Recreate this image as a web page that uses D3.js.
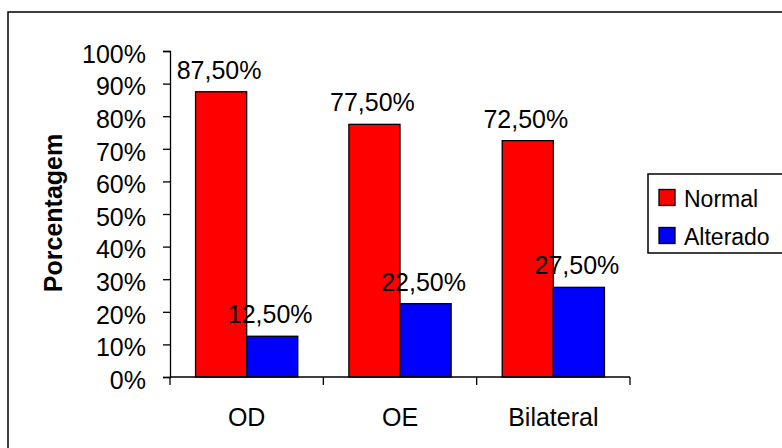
<!DOCTYPE html>
<html>
<head>
<meta charset="utf-8">
<script src="https://cdn.jsdelivr.net/npm/d3@7"></script>
<style>
  html, body { margin: 0; padding: 0; background: #fff; }
  svg { display: block; font-family: "Liberation Sans", Arial, sans-serif; }
</style>
</head>
<body>
<svg id="chart" width="782" height="448"></svg>
<script>
const categories = ["OD", "OE", "Bilateral"];
const seriesNames = ["Normal", "Alterado"];
const normalValues = [0.875, 0.775, 0.725];
const alteradoValues = [0.125, 0.225, 0.275];
const yTicks = [0, 0.1, 0.2, 0.3, 0.4, 0.5, 0.6, 0.7, 0.8, 0.9, 1.0];
const colors = ["#FF0000", "#0000FF"];
const yTitle = "Porcentagem";

const svg = d3.select("#chart");

// outer frame (right/bottom edges fall outside the image)
svg.append("rect").attr("x", 8).attr("y", 12).attr("width", 800).attr("height", 460)
  .attr("fill", "none").attr("stroke", "#000").attr("stroke-width", 1.5);

const plot = { left: 170, right: 630, top: 51, bottom: 377 };

const x = d3.scaleBand().domain(categories).range([plot.left, plot.right]).paddingInner(0).paddingOuter(0);
const y = d3.scaleLinear().domain([0, 1]).range([plot.bottom, plot.top]);
const bw = x.bandwidth() / 3;

const fmtPct = d3.format(".0%");
const fmtLabel = v => (v * 100).toFixed(2).replace(".", ",") + "%";

// y axis
const yAxis = d3.axisLeft(y).tickValues(yTicks).tickFormat(fmtPct).tickSize(7).tickPadding(17);
const gy = svg.append("g").attr("transform", `translate(${plot.left},0)`).call(yAxis);
gy.select(".domain").attr("stroke", "#000").attr("stroke-width", 1.3);
gy.selectAll(".tick line").attr("stroke", "#000").attr("stroke-width", 1.3);
gy.selectAll(".tick text").attr("font-size", 25).attr("fill", "#000")
  .attr("font-family", "Liberation Sans, Arial, sans-serif").attr("dy", "0.45em");

// bars
const data = categories.map((c, i) => ({ c, vals: [normalValues[i], alteradoValues[i]] }));
const groups = svg.append("g").selectAll("g").data(data).join("g");
groups.each(function(d) {
  const g = d3.select(this);
  d.vals.forEach((v, s) => {
    const bx = x(d.c) + bw / 2 + s * bw;
    g.append("rect")
      .attr("x", bx).attr("y", y(v))
      .attr("width", bw).attr("height", y(0) - y(v))
      .attr("fill", colors[s]).attr("stroke", "#000").attr("stroke-width", 1.3);
  });
});
groups.each(function(d) {
  const g = d3.select(this);
  d.vals.forEach((v, s) => {
    const bx = x(d.c) + bw / 2 + s * bw;
    g.append("text")
      .attr("x", bx + bw / 2 - 2).attr("y", y(v) - 13)
      .attr("text-anchor", "middle").attr("font-size", 25).attr("fill", "#000")
      .text(fmtLabel(v));
  });
});

// x axis
svg.append("line").attr("x1", plot.left).attr("x2", plot.right)
  .attr("y1", plot.bottom).attr("y2", plot.bottom).attr("stroke", "#000").attr("stroke-width", 1.3);
const boundaries = categories.map(c => x(c)).concat([plot.right]);
svg.append("g").selectAll("line").data(boundaries).join("line")
  .attr("x1", d => d).attr("x2", d => d)
  .attr("y1", plot.bottom).attr("y2", plot.bottom + 8)
  .attr("stroke", "#000").attr("stroke-width", 1.3);
svg.append("g").selectAll("text").data(categories).join("text")
  .attr("x", d => x(d) + x.bandwidth() / 2)
  .attr("y", 426)
  .attr("text-anchor", "middle").attr("font-size", 25).attr("fill", "#000")
  .text(d => d);

// y title
svg.append("text")
  .attr("transform", `translate(62,213) rotate(-90)`)
  .attr("text-anchor", "middle").attr("font-size", 25).attr("font-weight", "bold")
  .attr("fill", "#000").text(yTitle);

// legend
const lg = svg.append("g");
lg.append("rect").attr("x", 648).attr("y", 174).attr("width", 160).attr("height", 79)
  .attr("fill", "#fff").attr("stroke", "#000").attr("stroke-width", 1.5);
seriesNames.forEach((n, i) => {
  const cy = 197.5 + i * 38;
  lg.append("rect").attr("x", 659).attr("y", cy - 8).attr("width", 16).attr("height", 16)
    .attr("fill", colors[i]).attr("stroke", "#000").attr("stroke-width", 1.3);
  lg.append("text").attr("x", 684).attr("y", cy + 9)
    .attr("font-size", 23).attr("fill", "#000").text(n);
});
</script>
</body>
</html>
